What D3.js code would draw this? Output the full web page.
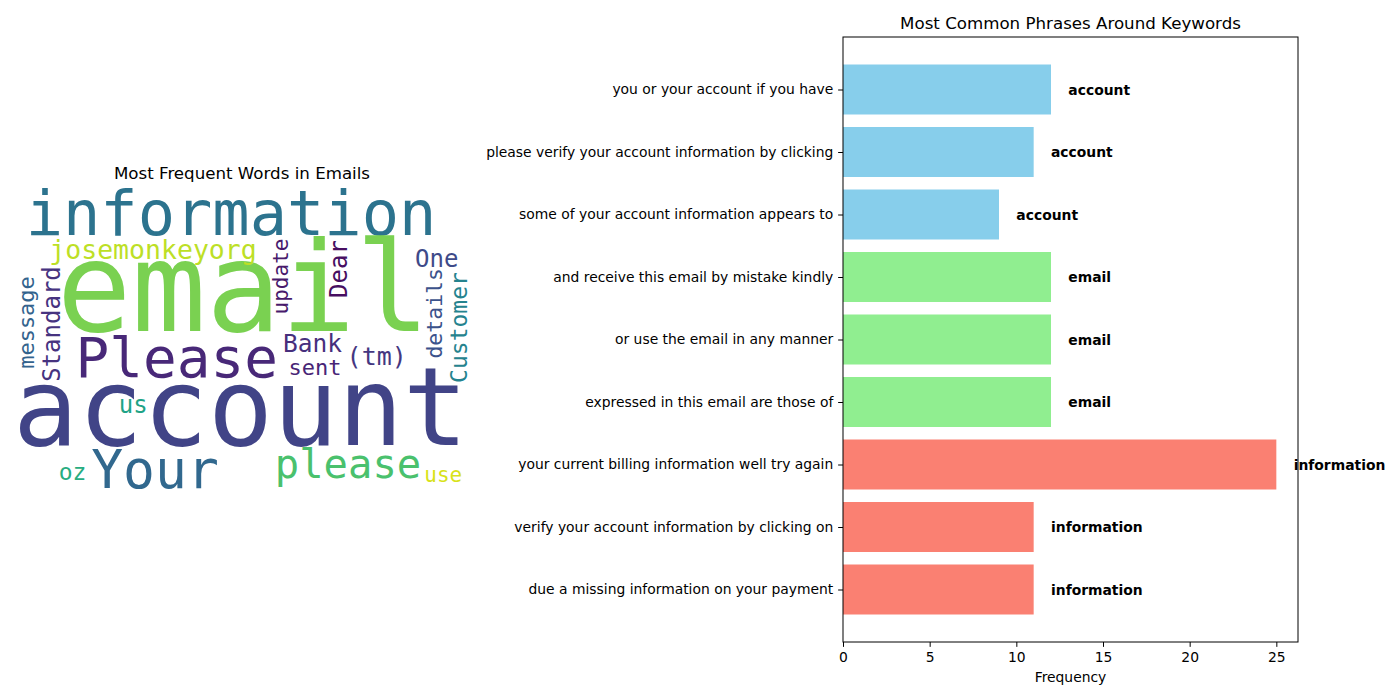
<!DOCTYPE html>
<html>
<head>
<meta charset="utf-8">
<script src="https://cdn.jsdelivr.net/npm/d3@7"></script>
<style>
  body { margin: 0; background: #fff; }
  svg { display: block; }
  text { font-family: "DejaVu Sans", sans-serif; }
</style>
</head>
<body>
<svg id="chart" width="1400" height="700"></svg>
<script>
// ---------------- DATA ----------------
// Word cloud words and their rendered sizes (relative frequency)
const cloudWords = ["information", "email", "account", "Please", "Your", "please", "josemonkeyorg",
  "update", "Dear", "One", "details", "Customer", "message", "Standard", "Bank", "sent", "(tm)", "us", "oz", "use"];
const cloudSizes = [62, 124, 108, 56, 53, 40.5, 26.5, 21, 24, 24, 21.5, 23, 22, 24, 24.5, 22, 25, 24, 23, 21];
const cloudColors = ["#2c738e", "#7ad151", "#414487", "#482878", "#31688e", "#4ac16d", "#bddf26",
  "#481a6c", "#470e61", "#3e4a89", "#3b528b", "#25838e", "#33638d", "#46337f", "#472f7d", "#482576", "#453781", "#20a386", "#27ad81", "#d8e219"];

// Phrase bar chart (listed bottom to top as matplotlib barh draws them)
const phrases = [
  "due a missing information on your payment",
  "verify your account information by clicking on",
  "your current billing information well try again",
  "expressed in this email are those of",
  "or use the email in any manner",
  "and receive this email by mistake kindly",
  "some of your account information appears to",
  "please verify your account information by clicking",
  "you or your account if you have"
];
const phraseFreq = [11, 11, 25, 12, 12, 12, 9, 11, 12];
const phraseKeyword = ["information", "information", "information", "email", "email", "email", "account", "account", "account"];
const xTicks = [0, 5, 10, 15, 20, 25];

// ---------------- LAYOUT / STYLE ----------------
// word-cloud image layout (image pixel coords: center of baseline, rotation)
const cloudLayout = [
  [214, 50, 0], [226.5, 146, 0], [223.5, 260, 0], [159.7, 192, 0], [138, 303, 0], [331, 293, 0], [136, 74, 0],
  [270.5, 91.5, -90], [329.5, 84, -90], [419.7, 82, 0], [424.5, 128.3, -90], [449.5, 142.5, -90],
  [16.5, 137.5, -90], [43, 139, -90], [295.5, 166.7, 0], [298, 190, 0], [359.7, 180, 0], [116.3, 228, 0], [55.5, 295, 0], [426.3, 296.7, 0]
];
const kwColor = { account: "#87ceeb", email: "#90ee90", information: "#fa8072" };

const svg = d3.select("#chart");

// ---------- Word cloud ----------
const imgX = d3.scaleLinear().domain([0, 450]).range([17, 467]);
const imgY = d3.scaleLinear().domain([0, 315]).range([185, 500]);
const sizeK = (imgX(450) - imgX(0)) / 450;

svg.append("text")
  .attr("x", 242).attr("y", 179)
  .attr("text-anchor", "middle")
  .attr("font-size", 16.67)
  .text("Most Frequent Words in Emails");

const cloud = svg.append("g");
cloudWords.forEach((w, i) => {
  const [lx, ly, rot] = cloudLayout[i];
  cloud.append("text")
    .attr("transform", `translate(${imgX(lx)},${imgY(ly)}) rotate(${rot})`)
    .attr("text-anchor", "middle")
    .style("font-family", "'DejaVu Sans Mono', monospace")
    .attr("font-size", cloudSizes[i] * sizeK)
    .attr("fill", cloudColors[i])
    .text(w);
});

// ---------- Bar chart ----------
const L = 843, R = 1298, T = 37, B = 642;
const n = phrases.length;
const x = d3.scaleLinear().domain([0, 26.25]).range([L, R]);
const y = d3.scaleLinear().domain([-0.84, n - 1 + 0.84]).range([B, T]);
const barH = y(0) - y(0.8);
const tick = 4.86;

svg.append("text")
  .attr("x", (L + R) / 2).attr("y", 29)
  .attr("text-anchor", "middle")
  .attr("font-size", 16.67)
  .text("Most Common Phrases Around Keywords");

svg.append("g").selectAll("rect")
  .data(phraseFreq)
  .join("rect")
  .attr("x", x(0))
  .attr("y", (d, i) => y(i) - barH / 2)
  .attr("width", d => x(d) - x(0))
  .attr("height", barH)
  .attr("fill", (d, i) => kwColor[phraseKeyword[i]]);

svg.append("g").selectAll("text")
  .data(phraseFreq)
  .join("text")
  .attr("x", d => x(d + 1))
  .attr("y", (d, i) => y(i) + 5)
  .attr("font-size", 13.89)
  .attr("font-weight", "bold")
  .text((d, i) => phraseKeyword[i]);

// axes
const xAxis = d3.axisBottom(x).tickValues(xTicks).tickSize(tick).tickPadding(tick).tickFormat(d3.format("d"));
const gx = svg.append("g").attr("transform", `translate(0,${B})`).call(xAxis);
gx.select(".domain").remove();
gx.selectAll("text").attr("font-size", 13.89).style("font-family", "'DejaVu Sans', sans-serif").attr("fill", "#000");
gx.selectAll("line").attr("stroke", "#000").attr("stroke-width", 1);

const yAxis = d3.axisLeft(y).tickValues(d3.range(n)).tickSize(tick).tickPadding(tick).tickFormat(i => phrases[i]);
const gy = svg.append("g").attr("transform", `translate(${L},0)`).call(yAxis);
gy.select(".domain").remove();
gy.selectAll("text").attr("font-size", 13.89).style("font-family", "'DejaVu Sans', sans-serif").attr("fill", "#000");
gy.selectAll("line").attr("stroke", "#000").attr("stroke-width", 1);

svg.append("rect")
  .attr("x", L).attr("y", T).attr("width", R - L).attr("height", B - T)
  .attr("fill", "none").attr("stroke", "#000").attr("stroke-width", 1);

svg.append("text")
  .attr("x", (L + R) / 2).attr("y", 682)
  .attr("text-anchor", "middle")
  .attr("font-size", 13.89)
  .text("Frequency");
</script>
</body>
</html>
